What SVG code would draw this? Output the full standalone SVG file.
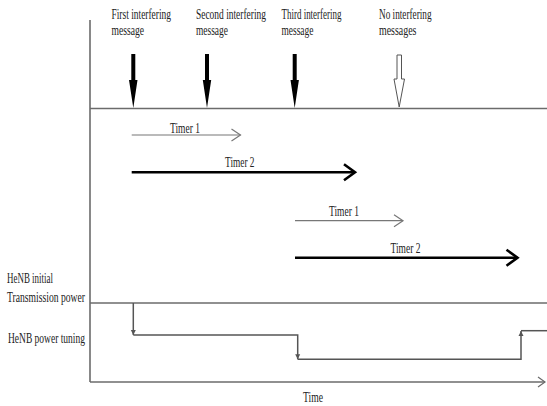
<svg xmlns="http://www.w3.org/2000/svg" width="547" height="406" viewBox="0 0 547 406">
<style>
text{font-family:"Liberation Serif","Times New Roman",serif;font-size:14px;fill:#222}
.ax{stroke:#6b6b6b;stroke-width:1.6;fill:none}
.thin{stroke:#777;stroke-width:1.2;fill:none}
.thick{stroke:#000;stroke-width:2.6;fill:none}
.pw{stroke:#555;stroke-width:1.5;fill:none}
</style>
<defs>
<marker id="chev" markerWidth="12" markerHeight="14" refX="10" refY="7" orient="auto" markerUnits="userSpaceOnUse"><path d="M1,1 L10,7 L1,13" fill="none" stroke="#777" stroke-width="1.2"/></marker>
<marker id="chevB" markerWidth="16" markerHeight="20" refX="13" refY="10" orient="auto" markerUnits="userSpaceOnUse"><path d="M2,2 L13,10 L2,18" fill="none" stroke="#000" stroke-width="2.6"/></marker>
<marker id="small" markerWidth="6" markerHeight="6" refX="5" refY="3" orient="auto" markerUnits="userSpaceOnUse"><path d="M0,0.5 L5,3 L0,5.5 Z" fill="#555"/></marker>
<marker id="chevT" markerWidth="10" markerHeight="12" refX="8" refY="6" orient="auto" markerUnits="userSpaceOnUse"><path d="M1,1 L8,6 L1,11" fill="none" stroke="#6b6b6b" stroke-width="1.2"/></marker>
</defs>

<g id="axes">
<line class="ax" x1="90" y1="20" x2="90" y2="382"/>
<line class="ax" x1="90" y1="108.5" x2="547" y2="108.5"/>
<line class="ax" x1="90" y1="303" x2="547" y2="303"/>
<line class="ax" x1="90" y1="382" x2="545" y2="382" marker-end="url(#chevT)"/>
</g>

<g id="msg1">
<text transform="translate(111.5,18.5) scale(0.68,1)" textLength="87.5" lengthAdjust="spacingAndGlyphs">First interfering</text>
<text transform="translate(111.5,35) scale(0.68,1)" textLength="47.8" lengthAdjust="spacingAndGlyphs">message</text>
<path d="M131.3,54 H135.3 V80 H137.5 L133.3,108 L129,80 H131.3 Z" fill="#000"/>
</g>
<g id="msg2">
<text transform="translate(196,18.5) scale(0.68,1)" textLength="102.9" lengthAdjust="spacingAndGlyphs">Second interfering</text>
<text transform="translate(196,35) scale(0.68,1)" textLength="47" lengthAdjust="spacingAndGlyphs">message</text>
<path d="M205,54 H209 V80 H211.2 L207,108 L202.8,80 H205 Z" fill="#000"/>
</g>
<g id="msg3">
<text transform="translate(281.5,18.5) scale(0.68,1)" textLength="88.2" lengthAdjust="spacingAndGlyphs">Third interfering</text>
<text transform="translate(281.5,35) scale(0.68,1)" textLength="47" lengthAdjust="spacingAndGlyphs">message</text>
<path d="M292.7,54 H296.7 V80 H298.9 L294.7,108 L290.5,80 H292.7 Z" fill="#000"/>
</g>
<g id="msg4">
<text transform="translate(379,18.5) scale(0.68,1)" textLength="77.2" lengthAdjust="spacingAndGlyphs">No interfering</text>
<text transform="translate(379,35) scale(0.68,1)" textLength="55.1" lengthAdjust="spacingAndGlyphs">messages</text>
<path d="M397,55 H401.5 V79 H404.5 L399.2,107 L394,79 H397 Z" fill="#fff" stroke="#555" stroke-width="1"/>
</g>

<g id="connectors">
<line class="thin" x1="131.7" y1="135" x2="240.5" y2="135" marker-end="url(#chev)"/>
<line class="thick" x1="131.7" y1="172.3" x2="355" y2="172.3" marker-end="url(#chevB)"/>
<line class="thin" x1="295" y1="220.7" x2="403" y2="220.7" marker-end="url(#chev)"/>
<line class="thick" x1="295" y1="257.7" x2="517.5" y2="257.7" marker-end="url(#chevB)"/>
<path class="pw" d="M133.3,303 V335" marker-end="url(#small)"/>
<path class="pw" d="M133.3,335 H297.7 V359.3" marker-end="url(#small)"/>
<path class="pw" d="M297.7,359.3 H521 V331" marker-end="url(#small)"/>
<path class="pw" d="M521,330.7 H547"/>
</g>

<g id="labels">
<text transform="translate(170,132.5) scale(0.68,1)" textLength="44.1" lengthAdjust="spacingAndGlyphs">Timer 1</text>
<text transform="translate(225,167) scale(0.68,1)" textLength="43.4" lengthAdjust="spacingAndGlyphs">Timer 2</text>
<text transform="translate(329,216) scale(0.68,1)" textLength="44.1" lengthAdjust="spacingAndGlyphs">Timer 1</text>
<text transform="translate(390.5,252.7) scale(0.68,1)" textLength="44.1" lengthAdjust="spacingAndGlyphs">Timer 2</text>
<text transform="translate(7,283) scale(0.68,1)" textLength="67.6" lengthAdjust="spacingAndGlyphs">HeNB initial</text>
<text transform="translate(7,302) scale(0.68,1)" textLength="114.7" lengthAdjust="spacingAndGlyphs">Transmission power</text>
<text transform="translate(8,343) scale(0.68,1)" textLength="113.2" lengthAdjust="spacingAndGlyphs">HeNB power tuning</text>
<text transform="translate(303,401.5) scale(0.68,1)" textLength="29.4" lengthAdjust="spacingAndGlyphs">Time</text>
</g>
</svg>
